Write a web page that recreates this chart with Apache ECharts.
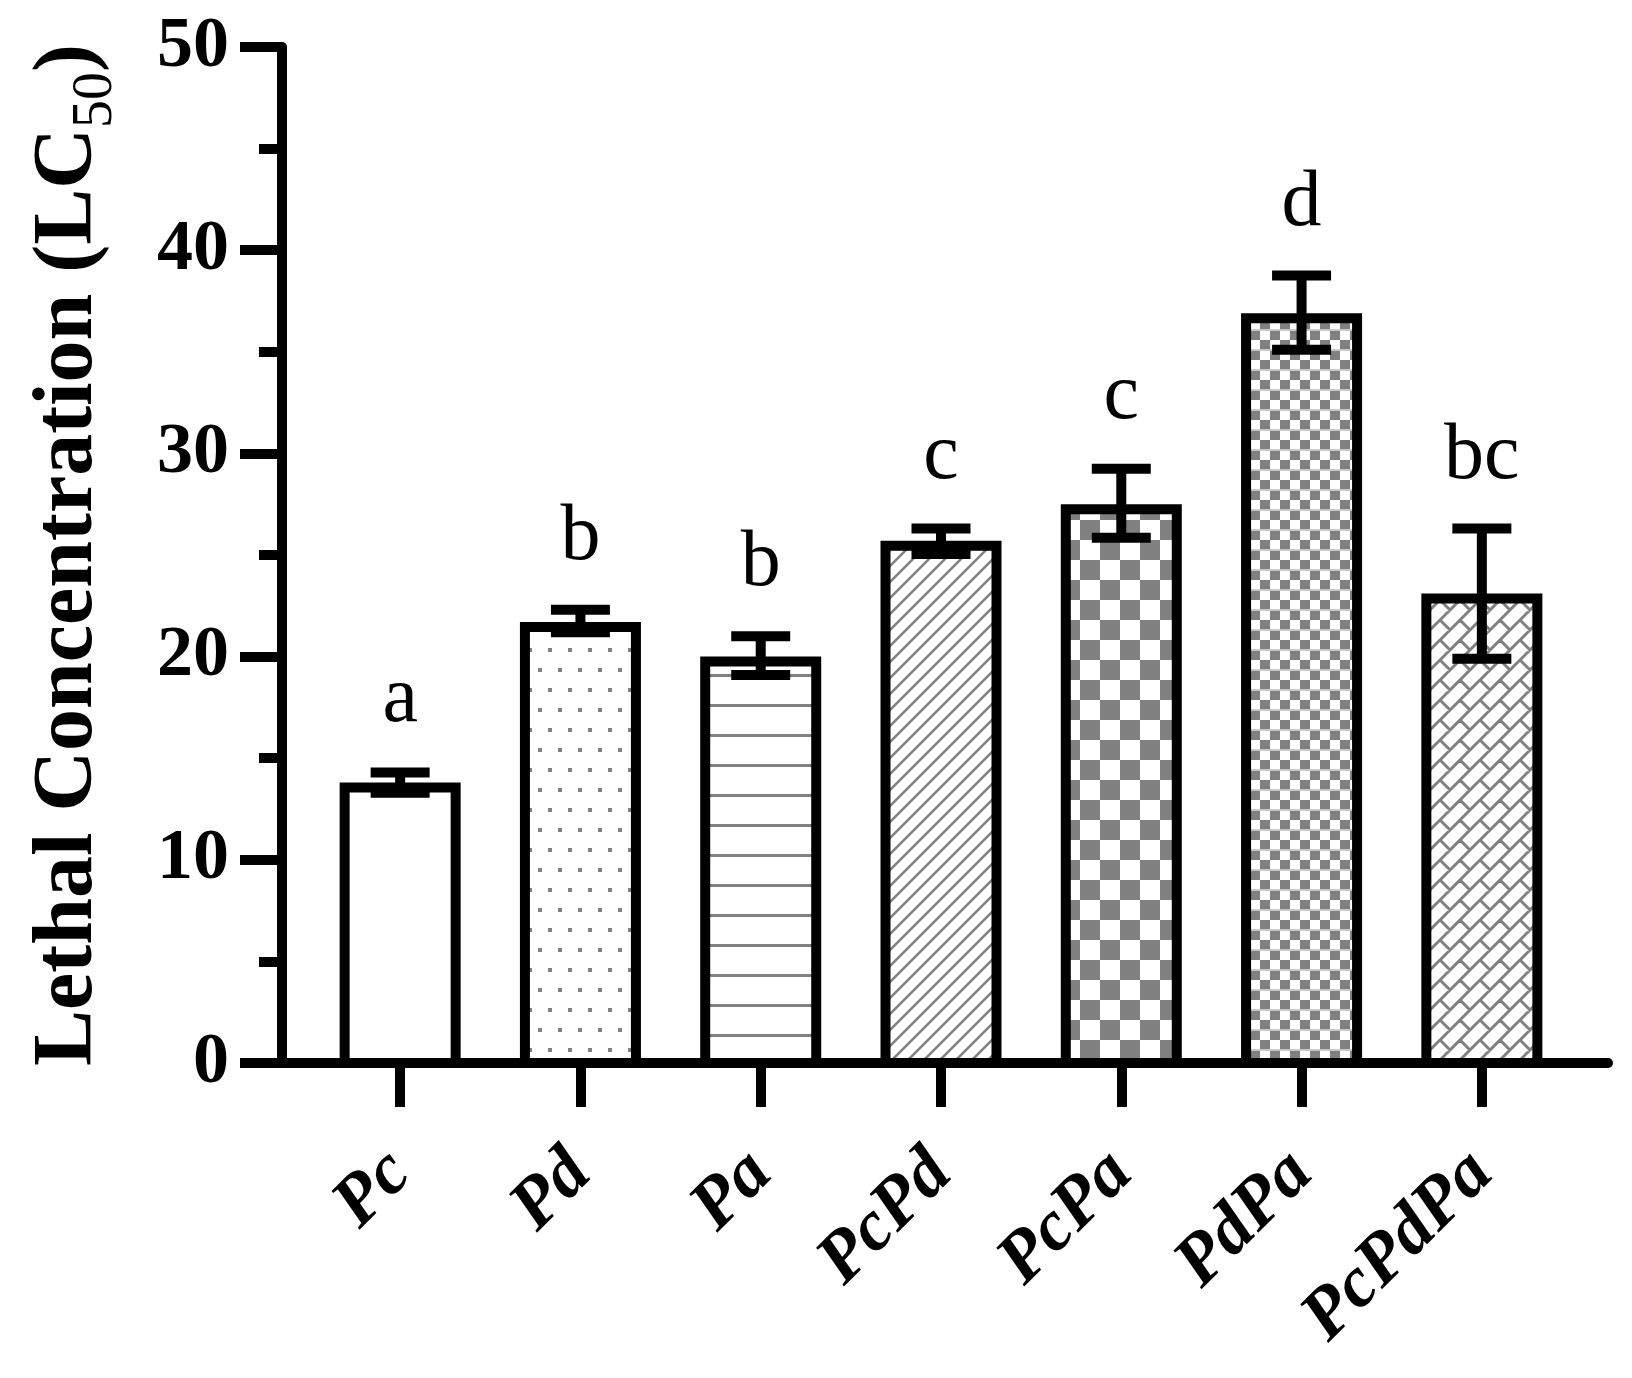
<!DOCTYPE html>
<html>
<head>
<meta charset="utf-8">
<title>Lethal Concentration (LC50)</title>
<script src="https://cdn.jsdelivr.net/npm/echarts@6/dist/echarts.min.js"></script>
<style>
  html, body { margin: 0; padding: 0; background: #fff; }
  #chart { width: 1632px; height: 1378px; }
</style>
</head>
<body>
<div id="chart"></div>
<script>
// data
var categories = ['Pc', 'Pd', 'Pa', 'PcPd', 'PcPa', 'PdPa', 'PcPdPa'];
var means      = [13.8, 21.7, 20.0, 25.7, 27.5, 36.9, 23.1];
var errLow     = [13.3, 21.2, 19.1, 25.05, 25.85, 35.1, 19.9];
var errHigh    = [14.3, 22.3, 21.0, 26.3, 29.25, 38.75, 26.3];
var letters    = ['a', 'b', 'b', 'c', 'c', 'd', 'bc'];
var yTicks     = [0, 10, 20, 30, 40, 50];

var SERIF = '"Liberation Serif", "Times New Roman", serif';
var GRAY = '#808080';

// fill patterns, one per bar
function tile(w, h, draw) {
    var c = document.createElement('canvas');
    c.width = w; c.height = h;
    var ctx = c.getContext('2d');
    ctx.fillStyle = '#fff';
    ctx.fillRect(0, 0, w, h);
    draw(ctx);
    return { image: c, repeat: 'repeat' };
}
var patterns = [
    '#fff',
    // dots
    tile(20, 40, function (ctx) {
        ctx.fillStyle = GRAY;
        ctx.fillRect(8, 8, 4, 4);
        ctx.fillRect(18, 28, 4, 4);
        ctx.fillRect(-2, 28, 4, 4);
    }),
    // horizontal lines
    tile(20, 30, function (ctx) {
        ctx.fillStyle = GRAY;
        ctx.fillRect(0, 14, 20, 3);
    }),
    // diagonal lines
    tile(16, 16, function (ctx) {
        ctx.strokeStyle = GRAY;
        ctx.lineWidth = 2.5;
        ctx.beginPath();
        ctx.moveTo(-4, 20); ctx.lineTo(20, -4);
        ctx.moveTo(-12, 12); ctx.lineTo(12, -12);
        ctx.moveTo(4, 28); ctx.lineTo(28, 4);
        ctx.stroke();
    }),
    // big checker
    tile(40, 40, function (ctx) {
        ctx.fillStyle = GRAY;
        ctx.fillRect(0, 0, 20, 20);
        ctx.fillRect(20, 20, 20, 20);
    }),
    // small checker
    tile(20, 20, function (ctx) {
        ctx.fillStyle = GRAY;
        ctx.fillRect(0, 0, 10, 10);
        ctx.fillRect(10, 10, 10, 10);
        ctx.fillStyle = '#c8c8c8';
        ctx.fillRect(0, 9, 20, 2);
    }),
    // diagonal bricks
    tile(40, 40, function (ctx) {
        var a = 40 / Math.SQRT2, h = a / 2;
        ctx.strokeStyle = GRAY;
        ctx.lineWidth = 3;
        ctx.rotate(-Math.PI / 4);
        ctx.beginPath();
        for (var k = -8; k <= 8; k++) {
            ctx.moveTo(-200, k * h); ctx.lineTo(200, k * h);
            for (var j = -8; j <= 8; j++) {
                var u = j * a + (k % 2 ? a / 2 : 0);
                ctx.moveTo(u, k * h); ctx.lineTo(u, (k + 1) * h);
            }
        }
        ctx.stroke();
    })
];

var barData = means.map(function (v, i) { return [i, v]; });
var errData = means.map(function (v, i) { return [i, errLow[i], errHigh[i]]; });

var chart = echarts.init(document.getElementById('chart'));
var option = {
    backgroundColor: '#fff',
    animation: false,
    grid: [
        { left: 310, top: 47, width: 1262, height: 1016 },
        { left: 282, top: 47, width: 1326, height: 1016 }
    ],
    xAxis: [
        {
            type: 'category', gridIndex: 0, data: categories,
            axisLine: { show: false },
            axisTick: { show: true, alignWithLabel: true, length: 44, lineStyle: { color: '#000', width: 10 } },
            axisLabel: {
                interval: 0, rotate: 45, margin: 100, color: '#000',
                fontFamily: SERIF, fontSize: 72, fontWeight: 'bold', fontStyle: 'italic'
            },
            splitLine: { show: false }
        },
        {
            type: 'value', gridIndex: 1, min: 0, max: 1,
            axisLine: { show: true, lineStyle: { color: '#000', width: 10 } },
            axisTick: { show: false }, axisLabel: { show: false }, splitLine: { show: false }
        }
    ],
    yAxis: [
        { type: 'value', gridIndex: 0, min: 0, max: 50, show: false },
        {
            type: 'value', gridIndex: 1, min: yTicks[0], max: yTicks[yTicks.length - 1], interval: 10,
            axisLine: { show: true, lineStyle: { color: '#000', width: 10 } },
            axisTick: { show: true, length: 42, lineStyle: { color: '#000', width: 10 } },
            minorTick: { show: true, splitNumber: 2, length: 23, lineStyle: { color: '#000', width: 10 } },
            axisLabel: { margin: 53, color: '#000', fontFamily: SERIF, fontSize: 72, fontWeight: 'bold' },
            splitLine: { show: false },
            name: '{main|Lethal Concentration (LC}{sub|50}{main|)}',
            nameLocation: 'middle', nameRotate: 90, nameGap: 158,
            nameTextStyle: {
                rich: {
                    main: { fontFamily: SERIF, fontSize: 84, fontWeight: 'bold', color: '#000', lineHeight: 110 },
                    sub: { fontFamily: SERIF, fontSize: 56, color: '#000', lineHeight: 56, verticalAlign: 'bottom' }
                }
            }
        }
    ],
    series: [
        {
            // bars, border kept inside the value
            type: 'custom', xAxisIndex: 0, yAxisIndex: 0, data: barData, z: 2,
            renderItem: function (params, api) {
                var top = api.coord([api.value(0), api.value(1)]);
                var base = api.coord([api.value(0), 0]);
                var w = 121, bw = 10;
                return {
                    type: 'rect',
                    shape: { x: top[0] - w / 2 + bw / 2, y: top[1] + bw / 2, width: w - bw, height: base[1] - top[1] - bw / 2 },
                    style: { fill: patterns[params.dataIndex], stroke: '#000', lineWidth: bw }
                };
            }
        },
        {
            // error bars and letters
            type: 'custom', xAxisIndex: 0, yAxisIndex: 0, data: errData, z: 3,
            renderItem: function (params, api) {
                var lo = api.coord([api.value(0), api.value(1)]);
                var hi = api.coord([api.value(0), api.value(2)]);
                var x = lo[0], cap = 29.5;
                var st = { stroke: '#000', lineWidth: 10 };
                return {
                    type: 'group',
                    children: [
                        { type: 'line', shape: { x1: x, y1: hi[1], x2: x, y2: lo[1] }, style: st },
                        { type: 'line', shape: { x1: x - cap, y1: hi[1], x2: x + cap, y2: hi[1] }, style: st },
                        { type: 'line', shape: { x1: x - cap, y1: lo[1], x2: x + cap, y2: lo[1] }, style: st },
                        {
                            type: 'text', x: x, y: hi[1] - 32,
                            style: {
                                text: letters[params.dataIndex], fill: '#000',
                                font: '80px ' + SERIF, textAlign: 'center', textVerticalAlign: 'bottom'
                            }
                        }
                    ]
                };
            }
        }
    ]
};
chart.setOption(option);
</script>
</body>
</html>
